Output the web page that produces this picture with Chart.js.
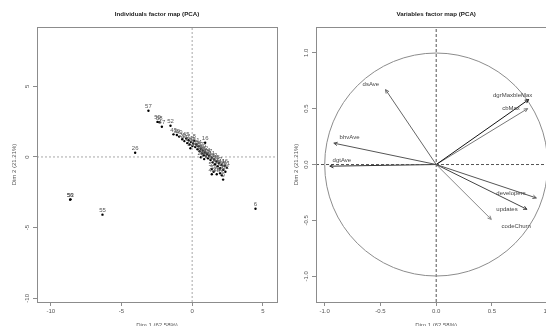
<!DOCTYPE html>
<html>
<head>
<meta charset="utf-8">
<script src="https://cdn.jsdelivr.net/npm/chart.js@4.4.1/dist/chart.umd.min.js"></script>
<style>
  html, body { margin: 0; padding: 0; background: #fff; overflow: hidden; }
  #wrap { position: relative; width: 546px; height: 326px; overflow: hidden; }
  #indCanvas { position: absolute; left: 0; top: 0; }
  #varCanvas { position: absolute; left: 290px; top: 0; }
</style>
</head>
<body>
<div id="wrap">
  <canvas id="indCanvas" width="290" height="326"></canvas>
  <canvas id="varCanvas" width="280" height="326"></canvas>
</div>
<script>
// ---- individuals (coordinates on Dim 1 / Dim 2) ----
const indLabels = [
  '57', '59', '58', '47', '52', '43', '39', '49', '20', '26', '16', '56', '53', '55', '6', '9', '61',
  '44', '45', '1', '2', '3', '4', '5', '7', '8', '10', '11', '12', '13',
  '14', '15', '17', '18', '19', '21', '22', '23', '24', '25', '27', '28', '29', '30', '31',
  '32', '33', '34', '35', '36', '37', '38', '41', '42', '46', '51', '54', '40', '48', '60', '62', '50'
];
const indDim1 = [
  -3.09, -2.45, -2.32, -2.14, -1.53, -1.32, -1.08, -0.92, -0.70, -4.03, 0.92, -8.63, -8.60, -6.34, 4.48, 2.19, 2.45,
  -0.55, -0.42, -0.35, -0.25, -0.18, -0.08, 0.02, 0.08, 0.15, 0.22, 0.30, -0.12, 0.38,
  0.45, 0.52, 0.60, 0.68, 0.75, 0.82, 0.90, 0.98, 1.05, 1.12, 1.20, 0.62, 0.85, 1.30, 1.38,
  1.45, 1.55, 1.62, 1.72, 1.80, 1.90, 1.98, 2.08, 2.20, 2.30, 1.40, 1.52, 1.39, 1.74, 1.98, 2.35, 2.10
];
const indDim2 = [
  3.27, 2.48, 2.45, 2.14, 2.21, 1.60, 1.55, 1.44, 1.25, 0.30, 1.01, -3.02, -3.00, -4.08, -3.66, -1.60, -0.76,
  1.12, 1.30, 0.98, 1.18, 0.88, 1.05, 0.78, 0.95, 1.15, 0.70, 0.88, 0.62, 0.55,
  0.75, 0.40, 0.58, 0.25, 0.45, 0.12, 0.32, 0.02, 0.20, -0.10, 0.08, -0.02, -0.15, -0.22, -0.05,
  -0.38, -0.18, -0.52, -0.32, -0.65, -0.45, -0.80, -0.58, -0.90, -0.62, -0.85, -1.05, -1.22, -1.22, -1.15, -1.05, -1.30
];

// ---- variables (arrow tips and label anchors) ----
const varNames = ['dsAve', 'bhvAve', 'dgtAve', 'dgrMaxbleMax', 'cbMax', 'developers', 'updates', 'codeChurn'];
const varDim1 = [-0.454, -0.918, -0.954, 0.829, 0.820, 0.898, 0.814, 0.494];
const varDim2 = [0.670, 0.191, -0.015, 0.581, 0.500, -0.299, -0.401, -0.491];
const varLabelDim1 = [-0.586, -0.777, -0.846, 0.686, 0.671, 0.671, 0.635, 0.718];
const varLabelDim2 = [0.718, 0.245, 0.036, 0.619, 0.500, -0.254, -0.404, -0.554];

// ---- axes ----
const indTicks = [-10, -5, 0, 5];
const varTicks = [-1, -0.5, 0, 0.5, 1];
const dim1Title = 'Dim 1 (62.58%)';
const dim2Title = 'Dim 2 (21.21%)';

const FONT = '"Liberation Sans", Arial, sans-serif';
const indRange = { xmin: -10.97, xmax: 6.0, ymin: -10.26, ymax: 9.19 };
const varRange = { xmin: -1.078, xmax: 1.078, ymin: -1.23, ymax: 1.23 };
const varColours = ['#666', '#555', '#333', '#111', '#777', '#555', '#444', '#888'];

function axis(min, max, ticks, isY, size, fmt, labelPad, titlePad) {
  return {
    type: 'linear',
    position: isY ? 'left' : 'bottom',
    min: min,
    max: max,
    afterBuildTicks: s => { s.ticks = ticks.map(v => ({ value: v })); },
    afterFit: s => { if (isY) s.width = size; else s.height = size; },
    grid: { display: true, drawOnChartArea: false, drawTicks: true, tickLength: 4, color: '#8c8c8c' },
    border: { display: false },
    ticks: {
      font: { family: FONT, size: 6 },
      color: '#555',
      padding: labelPad,
      minRotation: isY ? 90 : 0,
      maxRotation: isY ? 90 : 0,
      crossAlign: isY ? 'center' : 'near',
      autoSkip: false,
      callback: fmt
    },
    title: {
      display: true,
      text: isY ? dim2Title : dim1Title,
      font: { family: FONT, size: 6 },
      color: '#555',
      padding: titlePad
    }
  };
}

// box round the plot region, like R's bty="o"
const frameBox = {
  id: 'frameBox',
  afterDraw(chart) {
    const a = chart.chartArea, ctx = chart.ctx;
    ctx.save();
    ctx.strokeStyle = '#8c8c8c';
    ctx.lineWidth = 1;
    ctx.strokeRect(Math.round(a.left) + 0.5, Math.round(a.top) + 0.5,
      Math.round(a.right - a.left), Math.round(a.bottom - a.top));
    ctx.restore();
  }
};

// number labels over each individual
const pointLabels = {
  id: 'pointLabels',
  afterDatasetsDraw(chart) {
    const ctx = chart.ctx;
    const meta = chart.getDatasetMeta(2);
    ctx.save();
    ctx.font = '6px ' + FONT;
    ctx.fillStyle = '#555';
    ctx.textAlign = 'center';
    ctx.textBaseline = 'alphabetic';
    meta.data.forEach((pt, i) => ctx.fillText(indLabels[i], pt.x, pt.y - 2.5));
    ctx.restore();
  }
};

// correlation circle, arrow heads and variable names
const varDecor = {
  id: 'varDecor',
  afterDatasetsDraw(chart) {
    const ctx = chart.ctx, xs = chart.scales.x, ys = chart.scales.y;
    const x0 = xs.getPixelForValue(0), y0 = ys.getPixelForValue(0);
    const r = xs.getPixelForValue(1) - x0;
    ctx.save();
    ctx.strokeStyle = '#8c8c8c';
    ctx.lineWidth = 1;
    ctx.beginPath();
    ctx.arc(x0, y0, r, 0, Math.PI * 2);
    ctx.stroke();

    varNames.forEach((name, i) => {
      const tx = xs.getPixelForValue(varDim1[i]), ty = ys.getPixelForValue(varDim2[i]);
      const ang = Math.atan2(ty - y0, tx - x0);
      ctx.strokeStyle = varColours[i];
      ctx.beginPath();
      [-0.45, 0.45].forEach(d => {
        ctx.moveTo(tx, ty);
        ctx.lineTo(tx - 4 * Math.cos(ang + d), ty - 4 * Math.sin(ang + d));
      });
      ctx.stroke();
      ctx.font = '6px ' + FONT;
      ctx.fillStyle = '#444';
      ctx.textAlign = 'center';
      ctx.textBaseline = 'middle';
      ctx.fillText(name, xs.getPixelForValue(varLabelDim1[i]), ys.getPixelForValue(varLabelDim2[i]));
    });
    ctx.restore();
  }
};

function titleOpts(text) {
  return {
    display: true,
    text: text,
    fullSize: false,
    color: '#1a1a1a',
    font: { family: FONT, size: 6.2, weight: 'bold' },
    padding: { top: 11, bottom: 8.6 }
  };
}

// ---------- left: individuals ----------
new Chart(document.getElementById('indCanvas'), {
  type: 'scatter',
  data: {
    datasets: [
      { // x = 0
        data: [{ x: 0, y: indRange.ymin }, { x: 0, y: indRange.ymax }],
        showLine: true, borderColor: '#a8a8a8', borderWidth: 1, borderDash: [2, 2], pointRadius: 0
      },
      { // y = 0
        data: [{ x: indRange.xmin, y: 0 }, { x: indRange.xmax, y: 0 }],
        showLine: true, borderColor: '#a8a8a8', borderWidth: 1, borderDash: [2, 2], pointRadius: 0
      },
      {
        data: indDim1.map((v, i) => ({ x: v, y: indDim2[i] })),
        backgroundColor: '#000', borderWidth: 0, pointRadius: 1.2, pointStyle: 'circle'
      }
    ]
  },
  options: {
    responsive: false,
    animation: false,
    events: [],
    layout: { padding: { left: 0, right: 13, top: 0, bottom: 0 } },
    plugins: {
      legend: { display: false },
      tooltip: { enabled: false },
      title: titleOpts('Individuals factor map (PCA)')
    },
    scales: {
      x: axis(indRange.xmin, indRange.xmax, indTicks, false, 24, v => String(v), 2, { top: 0, bottom: -3 }),
      y: axis(indRange.ymin, indRange.ymax, indTicks, true, 37, v => String(v), 1.5, { top: 11, bottom: 0 })
    }
  },
  plugins: [frameBox, pointLabels]
});

// ---------- right: variables ----------
const arrowSets = varNames.map((name, i) => ({
  data: [{ x: 0, y: 0 }, { x: varDim1[i], y: varDim2[i] }],
  showLine: true, borderColor: varColours[i], borderWidth: 1, pointRadius: 0
}));

new Chart(document.getElementById('varCanvas'), {
  type: 'scatter',
  data: {
    datasets: [
      {
        data: [{ x: 0, y: varRange.ymin }, { x: 0, y: varRange.ymax }],
        showLine: true, borderColor: '#555', borderWidth: 1, borderDash: [3, 2], pointRadius: 0
      },
      {
        data: [{ x: varRange.xmin, y: 0 }, { x: varRange.xmax, y: 0 }],
        showLine: true, borderColor: '#555', borderWidth: 1, borderDash: [3, 2], pointRadius: 0
      }
    ].concat(arrowSets)
  },
  options: {
    responsive: false,
    animation: false,
    events: [],
    layout: { padding: { left: 0, right: 13.6, top: 0, bottom: 0 } },
    plugins: {
      legend: { display: false },
      tooltip: { enabled: false },
      title: titleOpts('Variables factor map (PCA)')
    },
    scales: {
      x: axis(varRange.xmin, varRange.xmax, varTicks, false, 24, v => v.toFixed(1), 2, { top: 0, bottom: -3 }),
      y: axis(varRange.ymin, varRange.ymax, varTicks, true, 26, v => v.toFixed(1), 0.5, { top: 2.4, bottom: 0 })
    }
  },
  plugins: [frameBox, varDecor]
});
</script>
</body>
</html>
